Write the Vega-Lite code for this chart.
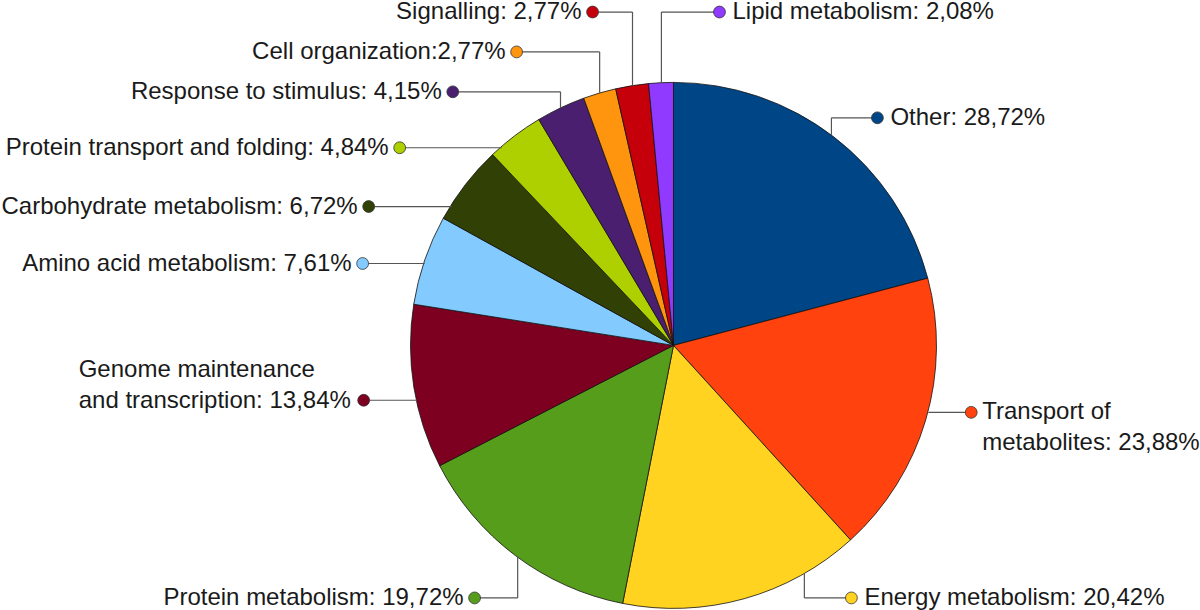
{
  "$schema": "https://vega.github.io/schema/vega-lite/v6.json",
  "width": 1200,
  "height": 610,
  "autosize": {"type": "fit", "contains": "padding"},
  "padding": 0,
  "background": "white",
  "config": {
    "view": {"stroke": null},
    "text": {"font": "Liberation Sans", "fontSize": 24, "color": "#1a1a1a"}
  },
  "data": {
    "values": [
      {"category": "Other", "value": 28.72, "label": "Other: 28,72%", "dot_x": 77.6, "dot_y": 86.7, "elbow_x": 60.1, "edge_y": 80.2},
      {"category": "Transport of metabolites", "value": 23.88, "label": ["Transport of", "metabolites: 23,88%"], "dot_x": 113.3, "dot_y": -25.5, "elbow_x": 97.0},
      {"category": "Energy metabolism", "value": 20.42, "label": "Energy metabolism: 20,42%", "dot_x": 67.7, "dot_y": -96.2, "elbow_x": 49.8, "edge_y": -87.1},
      {"category": "Protein metabolism", "value": 19.72, "label": "Protein metabolism: 19,72%", "dot_x": -75.7, "dot_y": -96.2, "elbow_x": -59.3, "edge_y": -80.6},
      {"category": "Genome maintenance and transcription", "value": 13.84, "label": ["Genome maintenance", "and transcription: 13,84%"], "dot_x": -117.9, "dot_y": -20.9, "elbow_x": -97.7},
      {"category": "Amino acid metabolism", "value": 7.61, "label": "Amino acid metabolism: 7,61%", "dot_x": -118.3, "dot_y": 31.2, "elbow_x": -94.7},
      {"category": "Carbohydrate metabolism", "value": 6.72, "label": "Carbohydrate metabolism: 6,72%", "dot_x": -116.0, "dot_y": 52.9, "elbow_x": -84.4},
      {"category": "Protein transport and folding", "value": 4.84, "label": "Protein transport and folding: 4,84%", "dot_x": -104.2, "dot_y": 75.3, "elbow_x": -65.4},
      {"category": "Response to stimulus", "value": 4.15, "label": "Response to stimulus: 4,15%", "dot_x": -84.0, "dot_y": 96.6, "elbow_x": -43.0, "edge_y": 90.5},
      {"category": "Cell organization", "value": 2.77, "label": "Cell organization:2,77%", "dot_x": -59.7, "dot_y": 111.8, "elbow_x": -28.1, "edge_y": 96.2},
      {"category": "Signalling", "value": 2.77, "label": "Signalling: 2,77%", "dot_x": -30.8, "dot_y": 127.0, "elbow_x": -15.6, "edge_y": 98.9},
      {"category": "Lipid metabolism", "value": 2.08, "label": "Lipid metabolism: 2,08%", "dot_x": 17.5, "dot_y": 127.0, "elbow_x": -4.6, "edge_y": 100.0}
    ]
  },
  "layer": [
    {
      "mark": {"type": "arc", "outerRadius": 263, "stroke": "#111111", "strokeWidth": 0.8},
      "encoding": {
        "theta": {"field": "value", "type": "quantitative", "stack": true},
        "order": {"field": "value", "sort": "descending"},
        "color": {
          "field": "category", "type": "nominal", "legend": null,
          "scale": {
            "domain": ["Other", "Transport of metabolites", "Energy metabolism", "Protein metabolism", "Genome maintenance and transcription", "Amino acid metabolism", "Carbohydrate metabolism", "Protein transport and folding", "Response to stimulus", "Cell organization", "Signalling", "Lipid metabolism"],
            "range": ["#004586", "#ff420e", "#ffd320", "#579d1c", "#7e0021", "#83caff", "#314004", "#aecf00", "#4b1f6f", "#ff950e", "#c5000b", "#9039ff"]
          }
        },
        "x": {"datum": 0, "type": "quantitative", "scale": {"domain": [-256.3, 199.6], "nice": false, "zero": false}, "axis": null},
        "y": {"datum": 0, "type": "quantitative", "scale": {"domain": [-100.8, 131.2], "nice": false, "zero": false}, "axis": null}
      }
    },
    {
      "mark": {"type": "rule", "color": "#555555", "strokeWidth": 1.2},
      "encoding": {
        "x": {"field": "dot_x", "type": "quantitative", "scale": {"domain": [-256.3, 199.6], "nice": false, "zero": false}, "axis": null},
        "x2": {"field": "elbow_x"},
        "y": {"field": "dot_y", "type": "quantitative", "scale": {"domain": [-100.8, 131.2], "nice": false, "zero": false}, "axis": null}
      }
    },
    {
      "transform": [{"filter": "isValid(datum.edge_y)"}],
      "mark": {"type": "rule", "color": "#555555", "strokeWidth": 1.2},
      "encoding": {
        "x": {"field": "elbow_x", "type": "quantitative", "scale": {"domain": [-256.3, 199.6], "nice": false, "zero": false}, "axis": null},
        "y": {"field": "dot_y", "type": "quantitative", "scale": {"domain": [-100.8, 131.2], "nice": false, "zero": false}, "axis": null},
        "y2": {"field": "edge_y"}
      }
    },
    {
      "mark": {"type": "point", "filled": true, "shape": "circle", "size": 140, "stroke": "#333333", "strokeWidth": 0.8, "opacity": 1},
      "encoding": {
        "x": {"field": "dot_x", "type": "quantitative", "scale": {"domain": [-256.3, 199.6], "nice": false, "zero": false}, "axis": null},
        "y": {"field": "dot_y", "type": "quantitative", "scale": {"domain": [-100.8, 131.2], "nice": false, "zero": false}, "axis": null},
        "color": {"field": "category", "type": "nominal", "legend": null}
      }
    },
    {
      "transform": [{"filter": {"field": "category", "oneOf": ["Other", "Energy metabolism", "Lipid metabolism"]}}],
      "mark": {"type": "text", "align": "left", "baseline": "middle", "dx": 13},
      "encoding": {
        "x": {"field": "dot_x", "type": "quantitative", "scale": {"domain": [-256.3, 199.6], "nice": false, "zero": false}, "axis": null},
        "y": {"field": "dot_y", "type": "quantitative", "scale": {"domain": [-100.8, 131.2], "nice": false, "zero": false}, "axis": null},
        "text": {"field": "label"}
      }
    },
    {
      "transform": [{"filter": {"field": "category", "oneOf": ["Protein metabolism", "Amino acid metabolism", "Carbohydrate metabolism", "Protein transport and folding", "Response to stimulus", "Cell organization", "Signalling"]}}],
      "mark": {"type": "text", "align": "right", "baseline": "middle", "dx": -11},
      "encoding": {
        "x": {"field": "dot_x", "type": "quantitative", "scale": {"domain": [-256.3, 199.6], "nice": false, "zero": false}, "axis": null},
        "y": {"field": "dot_y", "type": "quantitative", "scale": {"domain": [-100.8, 131.2], "nice": false, "zero": false}, "axis": null},
        "text": {"field": "label"}
      }
    },
    {
      "transform": [{"filter": {"field": "category", "equal": "Transport of metabolites"}}],
      "mark": {"type": "text", "align": "left", "baseline": "line-top", "lineHeight": 31, "dx": 11, "dy": -15},
      "encoding": {
        "x": {"field": "dot_x", "type": "quantitative", "scale": {"domain": [-256.3, 199.6], "nice": false, "zero": false}, "axis": null},
        "y": {"field": "dot_y", "type": "quantitative", "scale": {"domain": [-100.8, 131.2], "nice": false, "zero": false}, "axis": null},
        "text": {"field": "label"}
      }
    },
    {
      "transform": [{"filter": {"field": "category", "equal": "Genome maintenance and transcription"}}],
      "mark": {"type": "text", "align": "left", "baseline": "line-top", "lineHeight": 31, "dx": -285, "dy": -45},
      "encoding": {
        "x": {"field": "dot_x", "type": "quantitative", "scale": {"domain": [-256.3, 199.6], "nice": false, "zero": false}, "axis": null},
        "y": {"field": "dot_y", "type": "quantitative", "scale": {"domain": [-100.8, 131.2], "nice": false, "zero": false}, "axis": null},
        "text": {"field": "label"}
      }
    }
  ]
}
